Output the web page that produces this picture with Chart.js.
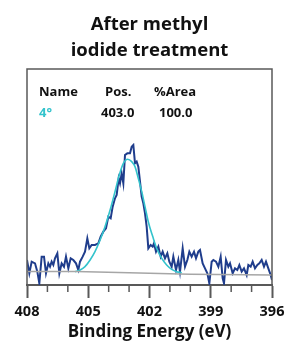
<!DOCTYPE html>
<html>
<head>
<meta charset="utf-8">
<script src="https://cdn.jsdelivr.net/npm/chart.js@4.4.0/dist/chart.umd.min.js"></script>
<style>
html,body{margin:0;padding:0;background:#fff;}
#wrap{width:290px;height:347px;position:relative;}
</style>
</head>
<body>
<div id="wrap"><canvas id="c" width="290" height="347"></canvas></div>
<script>
// ---- data ----
const titleLines = ["After methyl", "iodide treatment"];
const xTitle = "Binding Energy (eV)";
const legendHeader = ["Name", "Pos.", "%Area"];
const legendRow = ["4°", "403.0", "100.0"];
const xMin = 396, xMax = 408, majorStep = 3;

const rawEnergy = [408.0,407.886,407.771,407.608,407.494,407.396,407.282,407.167,407.069,406.955,406.873,406.792,406.710,406.629,406.514,406.416,406.302,406.188,406.090,405.975,405.861,405.731,405.600,405.486,405.404,405.273,405.159,405.045,404.947,404.833,404.669,404.506,404.392,404.261,404.131,404.016,403.902,403.804,403.690,403.608,403.510,403.445,403.363,403.282,403.200,403.086,402.955,402.873,402.792,402.710,402.628,402.547,402.465,402.384,402.302,402.220,402.139,402.057,401.943,401.845,401.780,401.681,401.567,401.453,401.355,401.241,401.126,401.028,400.914,400.833,400.702,400.588,400.506,400.375,400.261,400.147,400.049,399.935,399.820,399.722,399.608,399.526,399.396,399.282,399.167,399.069,398.955,398.873,398.743,398.628,398.514,398.416,398.351,398.253,398.139,398.057,397.926,397.812,397.698,397.600,397.486,397.371,397.241,397.159,397.045,396.947,396.833,396.718,396.620,396.506,396.392,396.294,396.180,396.065,396.0];
const rawIntensity = [11.57,5.40,10.80,10.03,6.17,0.77,13.12,13.12,5.40,10.03,8.49,10.80,9.26,12.35,14.66,5.40,10.03,8.49,13.12,7.72,12.35,11.57,10.03,6.94,10.80,13.12,15.43,21.60,16.98,18.52,18.52,19.29,22.38,24.69,26.23,31.64,30.86,36.27,40.12,41.67,49.38,47.07,51.70,47.07,60.18,60.96,60.96,64.04,64.81,56.33,57.10,54.78,47.84,40.89,37.81,33.18,27.01,16.98,18.52,17.75,19.29,15.43,17.75,13.12,15.43,12.35,14.66,10.80,8.49,13.12,6.94,11.57,6.17,16.98,8.49,11.57,15.43,13.12,15.43,12.35,15.43,16.20,10.03,7.72,5.40,0.77,10.80,11.57,10.80,8.49,13.12,3.09,0.77,11.57,8.49,10.03,5.40,7.72,6.94,9.26,6.17,7.72,4.63,9.26,8.49,10.80,7.72,9.26,10.03,11.57,8.49,10.80,7.72,4.63,2.31];

const fitEnergy = [405.65,405.40,405.16,404.91,404.67,404.42,404.18,403.93,403.69,403.48,403.28,403.07,402.87,402.71,402.55,402.38,402.22,402.06,401.84,401.65,401.40,401.16,400.91,400.67,400.42];
const fitIntensity = [6.17,6.94,8.49,11.57,15.43,20.83,27.0,34.7,43.2,50.9,56.3,58.2,57.1,54.8,49.4,43.2,36.3,29.3,22.4,17.0,12.3,9.26,7.25,6.17,5.71];

const bgEnergy = [408, 405.6, 403, 400, 396];
const bgIntensity = [6.3, 6.2, 5.7, 5.0, 4.6];

const toPts = (xs, ys) => xs.map((x, i) => ({x: x, y: ys[i]}));

const AXIS = '#595959';
const FONT = '"Open Sans", Lato, sans-serif';

const overlay = {
  id: 'overlay',
  afterDraw(chart) {
    const {ctx, chartArea: a, scales} = chart;
    const sx = scales.x;
    ctx.save();
    // frame (top, left, right)
    ctx.strokeStyle = AXIS;
    ctx.lineWidth = 1.5;
    ctx.beginPath();
    ctx.moveTo(a.left, a.bottom);
    ctx.lineTo(a.left, a.top);
    ctx.lineTo(a.right, a.top);
    ctx.lineTo(a.right, a.bottom);
    ctx.stroke();
    // minor ticks
    ctx.lineWidth = 1.5;
    ctx.beginPath();
    for (let v = xMin; v <= xMax; v++) {
      if ((xMax - v) % majorStep === 0) continue;
      const px = sx.getPixelForValue(v);
      ctx.moveTo(px, a.bottom);
      ctx.lineTo(px, a.bottom + 7);
    }
    ctx.stroke();
    // title
    ctx.fillStyle = '#111';
    ctx.textAlign = 'center';
    ctx.textBaseline = 'alphabetic';
    ctx.font = 'bold 18.5px ' + FONT;
    const cx = (a.left + a.right) / 2;
    ctx.fillText(titleLines[0], cx, 30);
    ctx.fillText(titleLines[1], cx, 56);
    // legend table
    ctx.font = 'bold 13px ' + FONT;
    ctx.textAlign = 'left';
    const colX = [39, 105, 154];
    const rowColX = [39, 101, 159];
    legendHeader.forEach((t, i) => ctx.fillText(t, colX[i], 96));
    legendRow.forEach((t, i) => {
      ctx.fillStyle = i === 0 ? '#33c3cc' : '#111';
      ctx.fillText(t, rowColX[i], 117);
    });
    ctx.restore();
  }
};

new Chart(document.getElementById('c'), {
  type: 'line',
  data: {
    datasets: [
      { data: toPts(bgEnergy, bgIntensity), borderColor: '#a6a6a6', borderWidth: 1.5, pointRadius: 0, tension: 0 },
      { data: toPts(fitEnergy, fitIntensity), borderColor: '#33c3cc', borderWidth: 1.6, pointRadius: 0, tension: 0.4, cubicInterpolationMode: 'monotone' },
      { data: toPts(rawEnergy, rawIntensity), borderColor: '#1f3d8c', borderWidth: 2, pointRadius: 0, tension: 0 }
    ]
  },
  options: {
    responsive: false,
    animation: false,
    layout: { padding: { left: 27, right: 18, top: 69, bottom: 0 } },
    plugins: { legend: { display: false }, tooltip: { enabled: false }, title: { display: false } },
    scales: {
      x: {
        type: 'linear',
        reverse: true,
        min: xMin, max: xMax,
        afterFit(s) { s.height = 62; },
        grid: {
          display: true, drawOnChartArea: false, drawTicks: true, tickLength: 13, tickWidth: 2,
          tickColor: (c) => (c.tick && (xMax - c.tick.value) % majorStep === 0) ? AXIS : 'rgba(0,0,0,0)'
        },
        border: { display: true, color: AXIS, width: 2 },
        ticks: {
          stepSize: 1, autoSkip: false, maxRotation: 0, padding: 5,
          color: '#111', font: { family: FONT, size: 14.5, weight: 'bold' },
          callback: (v) => ((xMax - v) % majorStep === 0) ? String(v) : ''
        },
        title: { display: true, text: xTitle, color: '#111', font: { family: FONT, size: 17, weight: 'bold' }, padding: { top: 0, bottom: 5 } }
      },
      y: { display: false, min: 0, max: 100 }
    }
  },
  plugins: [overlay]
});
</script>
</body>
</html>
